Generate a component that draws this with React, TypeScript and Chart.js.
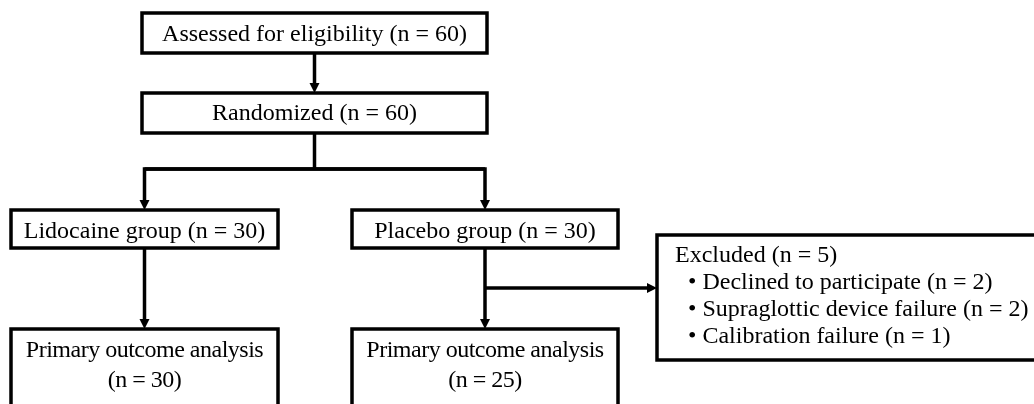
import React, { useEffect, useRef } from "react";
import { Chart, registerables } from "chart.js";

Chart.register(...registerables);

// ---------------- data ----------------
const stageLabels = ["Assessed for eligibility", "Randomized"];
const stageCounts = [60, 60];
const groupLabels = ["Lidocaine group", "Placebo group"];
const groupCounts = [30, 30];
const outcomeLabel = "Primary outcome analysis";
const outcomeCounts = [30, 25];
const excludedTitle = "Excluded";
const excludedCount = 5;
const excludedReasons = ["Declined to participate", "Supraglottic device failure", "Calibration failure"];
const excludedReasonCounts = [2, 2, 1];

// ---------------- layout (scale units) ----------------
const W = 1034;
const H = 404;
const stageBox = { x0: 142, x1: 487, rows: [[13, 53], [93, 133]] };
const stageBaselines = [41, 120];
const groupBoxes = [
  { x0: 11, x1: 278 },
  { x0: 352, x1: 618 },
];
const groupRow = [210, 248];
const groupBaseline = 238;
const outcomeRow = [329, 412];
const outcomeBaselines = [357, 387];
const splitY = 169;
const branchY = 288;
const excludedBox = { x0: 657, x1: 1042, y0: 235, y1: 360 };
const excludedTextX = [675, 688];
const excludedBaselines = [262, 289, 316, 343];

const FONT = "24px 'Liberation Serif', 'Times New Roman', serif";
const LINE_W = 3.5;
const HEAD_L = 10;
const HEAD_HW = 5;

const nText = (label: string, n: number) => `${label} (n = ${n})`;

const flowPlugin = {
  id: "flowchart",
  afterDraw(chart: any) {
    const ctx: CanvasRenderingContext2D = chart.ctx;
    const xs = chart.scales.x;
    const ys = chart.scales.y;
    const px = (v: number) => xs.getPixelForValue(v);
    const py = (v: number) => ys.getPixelForValue(v);

    ctx.save();
    ctx.strokeStyle = "#000";
    ctx.fillStyle = "#000";
    ctx.lineWidth = LINE_W;
    ctx.lineJoin = "miter";
    ctx.lineCap = "butt";

    const box = (x0: number, y0: number, x1: number, y1: number) => {
      ctx.strokeRect(px(x0), py(y0), px(x1) - px(x0), py(y1) - py(y0));
    };
    // polyline ending with an arrow head at the last point
    const path = (pts: number[][], head: boolean) => {
      const P = pts.map(([x, y]) => [px(x), py(y)]);
      const n = P.length;
      const [ex, ey] = P[n - 1];
      const [sx, sy] = P[n - 2];
      const len = Math.hypot(ex - sx, ey - sy) || 1;
      const ux = (ex - sx) / len;
      const uy = (ey - sy) / len;
      ctx.beginPath();
      ctx.moveTo(P[0][0], P[0][1]);
      for (let i = 1; i < n - 1; i++) ctx.lineTo(P[i][0], P[i][1]);
      if (head) ctx.lineTo(ex - ux * (HEAD_L - 1), ey - uy * (HEAD_L - 1));
      else ctx.lineTo(ex, ey);
      ctx.stroke();
      if (head) {
        const bx = ex - ux * HEAD_L;
        const by = ey - uy * HEAD_L;
        ctx.beginPath();
        ctx.moveTo(ex, ey);
        ctx.lineTo(bx - uy * HEAD_HW, by + ux * HEAD_HW);
        ctx.lineTo(bx + uy * HEAD_HW, by - ux * HEAD_HW);
        ctx.closePath();
        ctx.fill();
      }
    };
    const text = (s: string, x: number, y: number, align: CanvasTextAlign, spacing = "0px") => {
      ctx.font = FONT;
      ctx.textAlign = align;
      ctx.textBaseline = "alphabetic";
      (ctx as any).letterSpacing = spacing;
      ctx.fillText(s, px(x), py(y));
    };

    const stageCx = (stageBox.x0 + stageBox.x1) / 2;
    const groupCx = groupBoxes.map((b) => (b.x0 + b.x1) / 2);

    // stage boxes
    stageBox.rows.forEach(([y0, y1], i) => {
      box(stageBox.x0, y0, stageBox.x1, y1);
      text(nText(stageLabels[i], stageCounts[i]), stageCx, stageBaselines[i], "center");
    });
    // group boxes
    groupBoxes.forEach((b, i) => {
      box(b.x0, groupRow[0], b.x1, groupRow[1]);
      text(nText(groupLabels[i], groupCounts[i]), groupCx[i], groupBaseline, "center");
    });
    // outcome boxes
    groupBoxes.forEach((b, i) => {
      box(b.x0, outcomeRow[0], b.x1, outcomeRow[1]);
      text(outcomeLabel, groupCx[i], outcomeBaselines[0], "center", "-0.5px");
      text(`(n = ${outcomeCounts[i]})`, groupCx[i], outcomeBaselines[1], "center", "-0.5px");
    });
    // excluded box
    box(excludedBox.x0, excludedBox.y0, excludedBox.x1, excludedBox.y1);
    text(nText(excludedTitle, excludedCount), excludedTextX[0], excludedBaselines[0], "left");
    excludedReasons.forEach((r, i) => {
      text("\u2022 " + nText(r, excludedReasonCounts[i]), excludedTextX[1], excludedBaselines[i + 1], "left");
    });

    // connectors
    const sRows = stageBox.rows;
    path([[stageCx, sRows[0][1]], [stageCx, sRows[1][0]]], true);
    path([[stageCx, sRows[1][1]], [stageCx, splitY]], false);
    path([[groupCx[1], splitY], [groupCx[0], splitY], [groupCx[0], groupRow[0]]], true);
    path([[groupCx[0], splitY], [groupCx[1], splitY], [groupCx[1], groupRow[0]]], true);
    groupCx.forEach((cx) => path([[cx, groupRow[1]], [cx, outcomeRow[0]]], true));
    path([[groupCx[1], branchY], [excludedBox.x0, branchY]], true);

    ctx.restore();
  },
};

export default function App() {
  const ref = useRef<HTMLCanvasElement | null>(null);
  useEffect(() => {
    if (!ref.current) return;
    const nodes = [
      ...stageCounts.map((n, i) => ({ x: (stageBox.x0 + stageBox.x1) / 2, y: (stageBox.rows[i][0] + stageBox.rows[i][1]) / 2, n })),
      ...groupCounts.map((n, i) => ({ x: (groupBoxes[i].x0 + groupBoxes[i].x1) / 2, y: (groupRow[0] + groupRow[1]) / 2, n })),
    ];
    const chart = new Chart(ref.current, {
      type: "scatter",
      data: {
        datasets: [
          {
            label: "nodes",
            data: nodes,
            pointRadius: 0,
            pointHoverRadius: 0,
          },
        ],
      },
      options: {
        animation: false,
        responsive: false,
        events: [],
        layout: { padding: 0 },
        plugins: { legend: { display: false }, tooltip: { enabled: false } },
        scales: {
          x: { type: "linear", min: 0, max: W, display: false },
          y: { type: "linear", min: 0, max: H, reverse: true, display: false },
        },
      },
      plugins: [flowPlugin],
    });
    return () => chart.destroy();
  }, []);
  return (
    <div style={{ position: "absolute", left: 0, top: 0, width: W, height: H, background: "#fff", overflow: "hidden" }}>
      <canvas ref={ref} width={W} height={H} style={{ display: "block", width: W, height: H }} />
    </div>
  );
}
